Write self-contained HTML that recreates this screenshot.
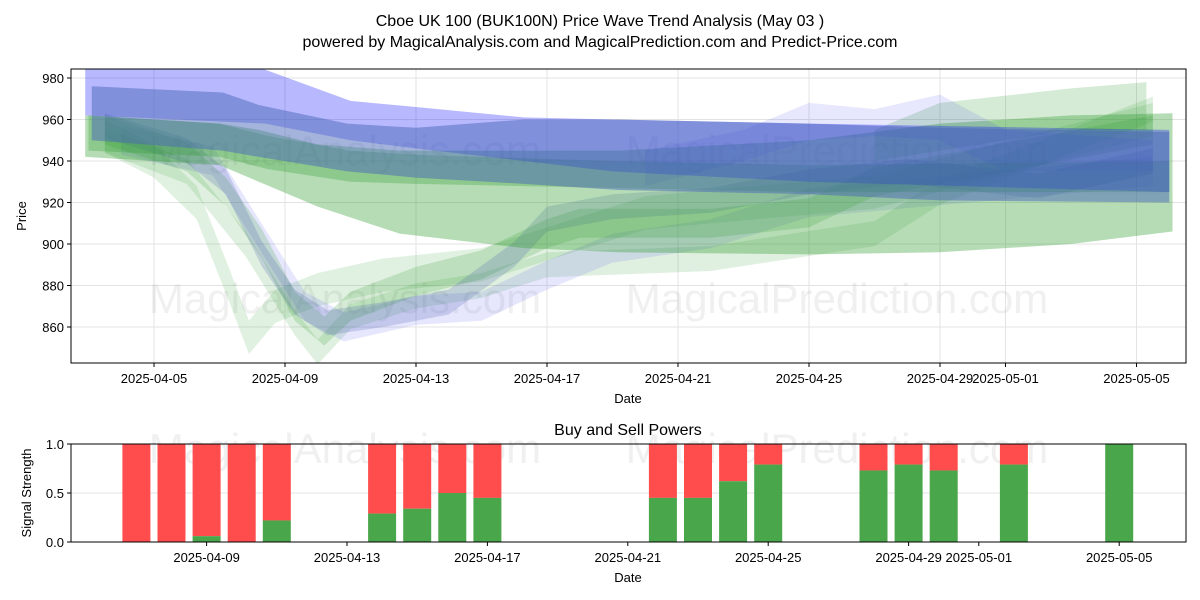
<!DOCTYPE html>
<html><head><meta charset="utf-8"><style>body{margin:0;background:#fff}svg{display:block;font-family:"Liberation Sans","DejaVu Sans",sans-serif}</style></head>
<body>
<svg id="c" width="1200" height="600" viewBox="0 0 1200 600">
<text x="600" y="26" text-anchor="middle" font-size="16">Cboe UK 100 (BUK100N) Price Wave Trend Analysis (May 03 )</text>
<text x="600" y="47" text-anchor="middle" font-size="16">powered by MagicalAnalysis.com and MagicalPrediction.com and Predict-Price.com</text>
<g id="topPanel"></g>
<g id="botPanel"></g>
</svg>
<script>
// ---- data ----
const priceTicks=[860,880,900,920,940,960,980];
const topDateTicks=["2025-04-05","2025-04-09","2025-04-13","2025-04-17","2025-04-21","2025-04-25","2025-04-29","2025-05-01","2025-05-05"];
const topTickDays=[0,4,8,12,16,20,24,26,30];
// bands: [day offset from Apr 5, low, high]
const bandBlueLight=[[-2.1,962,995],[3.4,958,984],[6,950,969],[8,946,966],[11.3,940,961],[14,935,960],[20,930,958],[31,925,955]];
const bandBlueCore=[[-1.9,950,976],[2.1,945,973],[3.2,942,967],[5.9,935,958],[8,932,956],[11.3,929,960],[14.2,926,960],[20,924,958],[24,921,956],[31,920,954]];
const bandGreenWide=[[-2.1,942,962],[2,938,958],[3.2,930,955],[5,918,948],[7.5,905,945],[11.3,898,945],[14.2,896,945],[20,895,950],[24,896,958],[28,900,962],[31.1,906,963]];
const bandGreenStripe=[[-2,945,962],[2,942,958],[3.5,936,952],[6,930,945],[8,929,943],[14,927,940],[20,925,938],[31,925,940]];
const bandBlueBump=[[15,928,945],[18,940,955],[20,950,968],[22,952,965],[24,950,972],[26,935,955],[30.5,935,950]];
const bandGreenRight=[[22,940,955],[24,945,968],[28,955,975],[30.3,955,978]];
const dipBlue1=[[-1.5,957],[1,945],[2.2,930],[3.3,895],[4.3,872],[5.3,862],[7,866],[9,872],[11,895],[12,912],[14,918],[17,921],[20,930],[23,935],[27,928],[30.5,940]];
const dipGreen2=[[-1.5,955],[1,942],[2.2,925],[3.3,900],[4.3,870],[5.2,858],[6,870],[8,882],[10,890],[12,905],[13,910],[17,910],[20,915],[22,930],[30.5,955]];
const dipGreen3=[[-1.5,952],[0,940],[1.3,920],[2.3,880],[2.9,855],[3.7,870],[5,878],[7,885],[10,890],[12,900],[15,915],[17,918],[22,925],[30.5,960]];
const dipGreen4=[[-1.5,950],[1,935],[2.8,900],[4.3,862],[5,848],[6,865],[8,875],[10,880],[12,890],[17,893],[22,905],[24,925],[30.5,965]];
const dipBlue5=[[-1,950],[1.8,940],[3.2,905],[4.6,870],[5.8,860],[8,868],[10,870],[12,885],[14,898],[17,905],[20,920],[30.5,935]];
// signal bars (day offset from Apr 9)
const sigDays=[-2,-1,0,1,2,5,6,7,8,13,14,15,16,19,20,21,23,26];
const buyVals=[0,0,0.06,0,0.22,0.29,0.34,0.5,0.45,0.45,0.45,0.62,0.79,0.73,0.79,0.73,0.79,1.0];
const sigTicks=[0,0.5,1.0];
const botDateTicks=["2025-04-09","2025-04-13","2025-04-17","2025-04-21","2025-04-25","2025-04-29","2025-05-01","2025-05-05"];
const botTickDays=[0,4,8,12,16,20,22,26];

const NS="http://www.w3.org/2000/svg";
function mk(p,t,a,txt){const e=document.createElementNS(NS,t);for(const k in a)e.setAttribute(k,a[k]);if(txt!==undefined)e.textContent=txt;p.appendChild(e);return e;}
const topG=document.getElementById('topPanel'),botG=document.getElementById('botPanel');
const T={l:71,r:1186,t:69,b:363};
const xT=d=>154+d*32.75, yT=p=>78+(980-p)*2.075;
const B={l:71,r:1186,t:444,b:542};
const xB=d=>206.6+d*35.1, yB=v=>542-v*98;

priceTicks.forEach(p=>{const y=yT(p);
 let g=mk(topG,'line',{x1:T.l,x2:T.r,y1:y,y2:y,stroke:'#e3e3e3','stroke-width':1});
 
 let t=mk(topG,'line',{x1:T.l-4,x2:T.l,y1:y,y2:y,stroke:'#000'});
 
 let l=mk(topG,'text',{x:T.l-7,y:y+5,'text-anchor':'end','font-size':13},p);
 });
topDateTicks.forEach((s,i)=>{const x=xT(topTickDays[i]);
 let g=mk(topG,'line',{x1:x,x2:x,y1:T.t,y2:T.b,stroke:'#e3e3e3'});
 
 let t=mk(topG,'line',{x1:x,x2:x,y1:T.b,y2:T.b+4,stroke:'#000'});
 
 let l=mk(topG,'text',{x:x,y:T.b+20,'text-anchor':'middle','font-size':13},s);
 });
[[345,150,'MagicalAnalysis.com'],[837,150,'MagicalPrediction.com'],[345,298,'MagicalAnalysis.com'],[837,298,'MagicalPrediction.com']].forEach(w=>{
 let t=mk(topG,'text',{x:w[0],y:w[1]+15,'text-anchor':'middle','font-size':42,fill:'#888','fill-opacity':0.13},w[2]);
 });
const clip=mk(topG,'clipPath',{id:'cp'});mk(clip,'rect',{x:T.l,y:T.t,width:T.r-T.l,height:T.b-T.t});
const bands=mk(topG,'g',{'clip-path':'url(#cp)'});

function band(arr,col,op,name){
 const up=arr.map(a=>xT(a[0])+','+yT(a[2])), lo=arr.slice().reverse().map(a=>xT(a[0])+','+yT(a[1]));
 const e=mk(bands,'polygon',{points:up.concat(lo).join(' '),fill:col,'fill-opacity':op});
 }
function dip(arr,hw,col,op,name){band(arr.map(a=>[a[0],a[1]-hw,a[1]+hw]),col,op,name);}
const BL='#3a3af0',GR='#2e9a2e';
dip(dipGreen3,8,GR,0.14,'dip-band-green-3');
dip(dipGreen4,6,GR,0.15,'dip-band-green-4');
dip(dipBlue5,7,BL,0.13,'dip-band-blue-5');
dip(dipGreen2,7,GR,0.2,'dip-band-green-2');
dip(dipBlue1,6,'#4a5fb0',0.22,'dip-band-blue-1');
band(bandGreenWide,GR,0.35,'band-green-wide');
band(bandGreenRight,GR,0.2,'band-green-right');
band(bandBlueBump,BL,0.12,'band-blue-bump');
band(bandGreenStripe,GR,0.3,'band-green-stripe');
band(bandBlueLight,'#0000ff',0.28,'band-blue-light');
band(bandBlueCore,'#4a68b8',0.5,'band-blue-core');
let fr=mk(topG,'rect',{x:T.l,y:T.t,width:T.r-T.l,height:T.b-T.t,fill:'none',stroke:'#000'});

let yl=mk(topG,'text',{x:0,y:0,transform:'translate(26,216) rotate(-90)','text-anchor':'middle','font-size':13},'Price');

let xl=mk(topG,'text',{x:628,y:403,'text-anchor':'middle','font-size':13},'Date');


let bt=mk(botG,'text',{x:628,y:435,'text-anchor':'middle','font-size':16},'Buy and Sell Powers');

sigTicks.forEach(v=>{const y=yB(v);
 let g=mk(botG,'line',{x1:B.l,x2:B.r,y1:y,y2:y,stroke:'#e3e3e3'});
 
 let t=mk(botG,'line',{x1:B.l-4,x2:B.l,y1:y,y2:y,stroke:'#000'});
 
 let l=mk(botG,'text',{x:B.l-7,y:y+5,'text-anchor':'end','font-size':13},v.toFixed(1));
 });
[[345,448,'MagicalAnalysis.com'],[837,448,'MagicalPrediction.com']].forEach(w=>{
 let t=mk(botG,'text',{x:w[0],y:w[1]+15,'text-anchor':'middle','font-size':42,fill:'#888','fill-opacity':0.13},w[2]);
 });
sigDays.forEach((d,i)=>{const x=xB(d)-14,w=28,b=buyVals[i];
 let r=mk(botG,'rect',{x:x,y:yB(1),width:w,height:yB(b)-yB(1),fill:'#ff4c4c'});
 
 let g=mk(botG,'rect',{x:x,y:yB(b),width:w,height:yB(0)-yB(b),fill:'#4aa64a'});
 });
botDateTicks.forEach((s,i)=>{const x=xB(botTickDays[i]);
 let t=mk(botG,'line',{x1:x,x2:x,y1:B.b,y2:B.b+4,stroke:'#000'});
 
 let l=mk(botG,'text',{x:x,y:B.b+20,'text-anchor':'middle','font-size':13},s);
 });
let fr2=mk(botG,'rect',{x:B.l,y:B.t,width:B.r-B.l,height:B.b-B.t,fill:'none',stroke:'#000'});

let yl2=mk(botG,'text',{x:0,y:0,transform:'translate(31,493) rotate(-90)','text-anchor':'middle','font-size':13},'Signal Strength');

let xl2=mk(botG,'text',{x:628,y:582,'text-anchor':'middle','font-size':13},'Date');

</script>
</body></html>
